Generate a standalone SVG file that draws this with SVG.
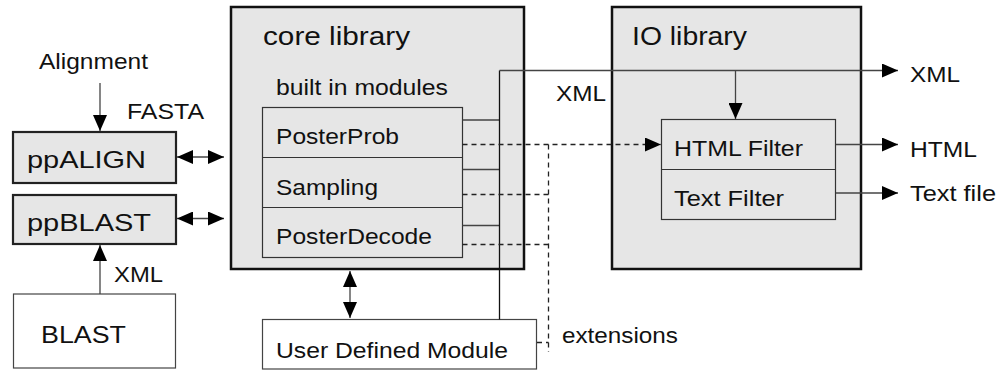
<svg xmlns="http://www.w3.org/2000/svg" width="999" height="370" viewBox="0 0 999 370">
<defs>
<style>
text{font-family:"Liberation Sans",Arial,Helvetica,sans-serif;font-size:22.5px;fill:#111}
.big{font-size:26px}
.pp{font-size:24.5px}
.lib{fill:#e6e6e6;stroke:#111;stroke-width:2.5}
.ppbox{fill:#e6e6e6;stroke:#222;stroke-width:2.2}
.mod{fill:#e6e6e6;stroke:#333;stroke-width:1.2}
.plain{fill:#fff;stroke:#444;stroke-width:1.2}
.c{fill:none;stroke:#444;stroke-width:1.3}
.k{fill:none;stroke:#111;stroke-width:1.3}
.d{fill:none;stroke:#222;stroke-width:1.3;stroke-dasharray:5 4}
</style>
<marker id="ah" viewBox="0 0 16 14" refX="16" refY="7" markerWidth="16" markerHeight="14" markerUnits="userSpaceOnUse" orient="auto-start-reverse">
<path d="M0,0 L16,7 L0,14 z" fill="#000"/>
</marker>
</defs>

<g id="core-library">
<rect class="lib" x="231" y="7" width="293" height="262"/>
<text class="big" x="263" y="45" textLength="147" lengthAdjust="spacingAndGlyphs">core library</text>
<text x="276" y="95" textLength="172" lengthAdjust="spacingAndGlyphs">built in modules</text>
</g>
<g id="modules">
<rect class="mod" x="262.5" y="107.5" width="200" height="150"/>
<line class="mod" x1="262.5" y1="157.5" x2="462.5" y2="157.5"/>
<line class="mod" x1="262.5" y1="207.5" x2="462.5" y2="207.5"/>
</g>
<g id="posterprob"><text x="276" y="144" textLength="123" lengthAdjust="spacingAndGlyphs">PosterProb</text></g>
<g id="sampling"><text x="276" y="195" textLength="102" lengthAdjust="spacingAndGlyphs">Sampling</text></g>
<g id="posterdecode"><text x="276" y="244" textLength="156" lengthAdjust="spacingAndGlyphs">PosterDecode</text></g>

<g id="io-library">
<rect class="lib" x="612" y="7" width="249" height="262"/>
<text class="big" x="632" y="45" textLength="115" lengthAdjust="spacingAndGlyphs">IO library</text>
</g>
<g id="filters">
<rect class="mod" x="661.5" y="119.5" width="174" height="100"/>
<line class="mod" x1="661.5" y1="169.5" x2="835.5" y2="169.5"/>
</g>
<g id="html-filter"><text x="674" y="156" textLength="129" lengthAdjust="spacingAndGlyphs">HTML Filter</text></g>
<g id="text-filter"><text x="674" y="206" textLength="110" lengthAdjust="spacingAndGlyphs">Text Filter</text></g>

<g id="ppalign">
<rect class="ppbox" x="13" y="132" width="163" height="51"/>
<text class="pp" x="27" y="168" textLength="119" lengthAdjust="spacingAndGlyphs">ppALIGN</text>
</g>
<g id="ppblast">
<rect class="ppbox" x="13" y="195" width="163" height="49"/>
<text class="pp" x="27" y="231" textLength="124" lengthAdjust="spacingAndGlyphs">ppBLAST</text>
</g>
<g id="blast">
<rect class="plain" x="13.5" y="294" width="162" height="74"/>
<text class="pp" x="41" y="343" textLength="85" lengthAdjust="spacingAndGlyphs">BLAST</text>
</g>
<g id="user-defined-module">
<rect class="plain" x="262.5" y="319.5" width="274" height="49.5"/>
<text x="276" y="358" textLength="232" lengthAdjust="spacingAndGlyphs">User Defined Module</text>
</g>

<g id="labels">
<text x="39" y="69" textLength="109" lengthAdjust="spacingAndGlyphs">Alignment</text>
<text x="127" y="119" textLength="77" lengthAdjust="spacingAndGlyphs">FASTA</text>
<text x="114" y="282" textLength="49" lengthAdjust="spacingAndGlyphs">XML</text>
<text x="556" y="100.5" textLength="50" lengthAdjust="spacingAndGlyphs">XML</text>
<text x="910" y="82" textLength="50" lengthAdjust="spacingAndGlyphs">XML</text>
<text x="910" y="157" textLength="67" lengthAdjust="spacingAndGlyphs">HTML</text>
<text x="910" y="201" textLength="86" lengthAdjust="spacingAndGlyphs">Text file</text>
<text x="562" y="343" textLength="116" lengthAdjust="spacingAndGlyphs">extensions</text>
</g>

<g id="connectors">
<path class="c" d="M100,83 V131" marker-end="url(#ah)"/>
<path class="c" d="M100,294 V245" marker-end="url(#ah)"/>
<path class="c" d="M177,157 H224" marker-start="url(#ah)" marker-end="url(#ah)"/>
<path class="c" d="M177,218.5 H224" marker-start="url(#ah)" marker-end="url(#ah)"/>
<path class="c" d="M350,271 V318" marker-start="url(#ah)" marker-end="url(#ah)"/>
<path class="c" d="M462.5,120 H499.5 M462.5,169.5 H499.5 M462.5,225.5 H499.5"/>
<path class="k" d="M499.5,319.5 V70.5"/>
<path class="c" d="M499.5,70.5 H898" marker-end="url(#ah)"/>
<path class="c" d="M735.5,70.5 V119" marker-end="url(#ah)"/>
<path class="c" d="M836,144.5 H898" marker-end="url(#ah)"/>
<path class="c" d="M836,193 H898" marker-end="url(#ah)"/>
<path class="d" d="M462.5,144.5 H661" marker-end="url(#ah)"/>
<path class="d" d="M462.5,194.5 H548.5 M462.5,244.5 H548.5"/>
<path class="d" d="M548.5,144.5 V352 M537,342.5 H548.5"/>
</g>
</svg>
